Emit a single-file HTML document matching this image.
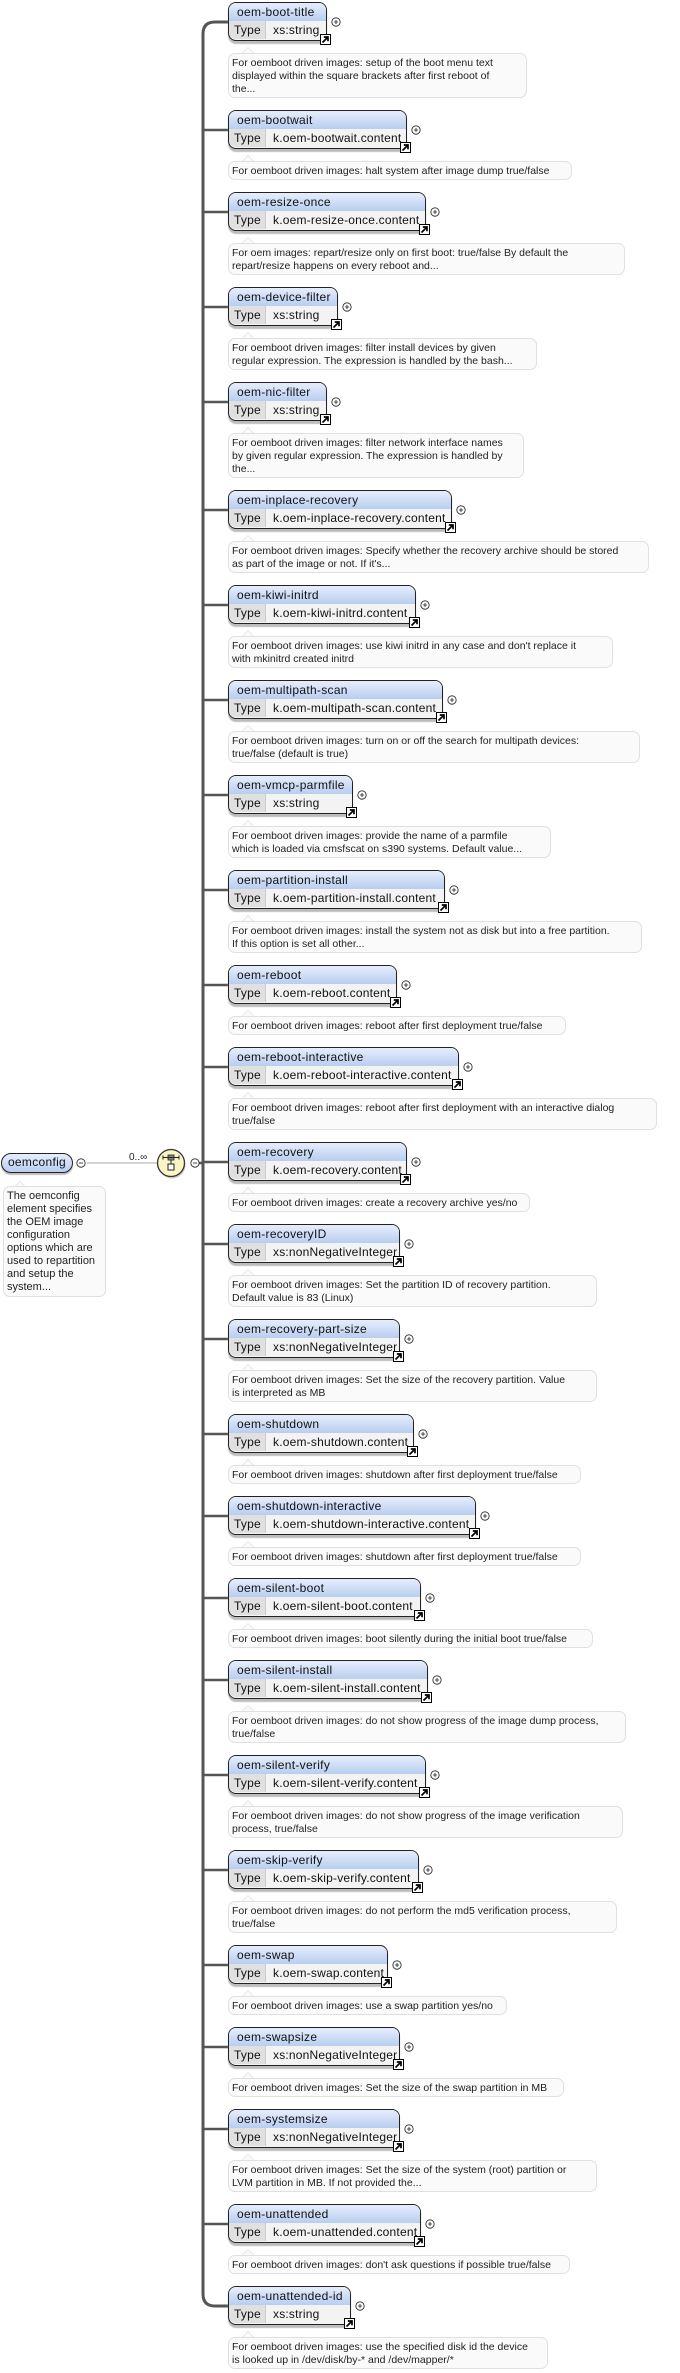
<!DOCTYPE html>
<html><head><meta charset="utf-8">
<style>
html,body{margin:0;padding:0;background:#fff;}
body{width:680px;height:2373px;position:relative;overflow:hidden;font-family:"Liberation Sans",sans-serif;color:#111;}
svg.ov{position:absolute;left:0;top:0;}
.bx{position:absolute;left:228px;height:39px;box-sizing:border-box;border:1.5px solid #222;border-radius:8px 8px 4px 8px;background:#f3f3f3;box-shadow:0 3px 1px #bdbdbd;}
.h{height:18px;border-radius:7px 7px 0 0;background:linear-gradient(#e6eefc,#b8cdf0);font-size:12px;letter-spacing:.3px;line-height:18px;padding-left:8px;white-space:nowrap;overflow:hidden;}
.t{height:18px;display:flex;font-size:12px;line-height:18px;white-space:nowrap;letter-spacing:.2px;}
.k{width:37px;box-sizing:border-box;background:#e0e0e0;border-right:1px solid #ccc;padding-left:5px;border-radius:0 0 0 7px;}
.v{padding-left:7px;}
.ar{position:absolute;right:-5px;bottom:-5px;width:9px;height:9px;background:#fff;border:1px solid #000;display:block;}
.ar svg{display:block;}
.d{position:absolute;left:228px;box-sizing:border-box;border:1px solid #e0e0e0;border-radius:7px;background:#fafafa;font-size:10.5px;line-height:13px;padding:3px 3px 2px 3px;white-space:nowrap;overflow:hidden;color:#222;}
.tp{position:absolute;width:0;height:0;border-left:6px solid transparent;border-right:6px solid transparent;border-bottom:6px solid #e0e0e0;left:242px;}
.tp i{position:absolute;left:-5px;top:1px;border-left:5px solid transparent;border-right:5px solid transparent;border-bottom:5px solid #fafafa;}
</style></head><body>

<svg class="ov" width="680" height="2373" xmlns="http://www.w3.org/2000/svg">
<defs>
<symbol id="p" viewBox="-6 -6 12 12" overflow="visible"><circle r="5" fill="#fff" stroke="#222" stroke-width="1"/><path d="M-2.5 0H2.5M0 -2.5V2.5" stroke="#222" stroke-width="1"/></symbol>
<symbol id="m" viewBox="-6 -6 12 12" overflow="visible"><circle r="5" fill="#fff" stroke="#222" stroke-width="1"/><path d="M-2.5 0H2.5" stroke="#222" stroke-width="1"/></symbol>
</defs>
<path d="M228,22 H215 Q203,22 203,34 V2294 Q203,2306 215,2306 H228" fill="none" stroke="#555" stroke-width="3"/>
<g stroke="#555" stroke-width="2.5">
<path d="M203 130H228M203 212H228M203 307H228M203 402H228M203 510H228M203 605H228M203 700H228M203 795H228M203 890H228M203 985H228M203 1067H228M203 1162H228M203 1244H228M203 1339H228M203 1434H228M203 1516H228M203 1598H228M203 1680H228M203 1775H228M203 1870H228M203 1965H228M203 2047H228M203 2129H228M203 2224H228"/>
</g>
<g>
<use href="#p" x="331" y="17" width="10" height="10"/>
<use href="#p" x="411" y="125" width="10" height="10"/>
<use href="#p" x="430" y="207" width="10" height="10"/>
<use href="#p" x="342" y="302" width="10" height="10"/>
<use href="#p" x="331" y="397" width="10" height="10"/>
<use href="#p" x="456" y="505" width="10" height="10"/>
<use href="#p" x="420" y="600" width="10" height="10"/>
<use href="#p" x="447" y="695" width="10" height="10"/>
<use href="#p" x="357" y="790" width="10" height="10"/>
<use href="#p" x="449" y="885" width="10" height="10"/>
<use href="#p" x="401" y="980" width="10" height="10"/>
<use href="#p" x="463" y="1062" width="10" height="10"/>
<use href="#p" x="411" y="1157" width="10" height="10"/>
<use href="#p" x="404" y="1239" width="10" height="10"/>
<use href="#p" x="404" y="1334" width="10" height="10"/>
<use href="#p" x="418" y="1429" width="10" height="10"/>
<use href="#p" x="480" y="1511" width="10" height="10"/>
<use href="#p" x="425" y="1593" width="10" height="10"/>
<use href="#p" x="432" y="1675" width="10" height="10"/>
<use href="#p" x="430" y="1770" width="10" height="10"/>
<use href="#p" x="423" y="1865" width="10" height="10"/>
<use href="#p" x="392" y="1960" width="10" height="10"/>
<use href="#p" x="404" y="2042" width="10" height="10"/>
<use href="#p" x="404" y="2124" width="10" height="10"/>
<use href="#p" x="425" y="2219" width="10" height="10"/>
<use href="#p" x="355" y="2301" width="10" height="10"/>
</g>
<line x1="87" y1="1163" x2="158" y2="1163" stroke="#aaa" stroke-width="1"/>
<text x="129" y="1160" font-family="Liberation Sans, sans-serif" font-size="10" fill="#222">0..∞</text>
<line x1="199" y1="1163" x2="204" y2="1163" stroke="#555" stroke-width="2.5"/>
<circle cx="172" cy="1165" r="13.5" fill="#c8c8c8"/>
<circle cx="171" cy="1163" r="13.5" fill="#fbf5c4" stroke="#333" stroke-width="1.3"/>
<rect x="168" y="1155" width="6" height="5" fill="#888" stroke="#222" stroke-width=".8"/>
<path d="M163 1157.5H179M163 1155.5V1159.5M179 1155.5V1159.5M171 1160V1164" stroke="#222" stroke-width="1"/>
<rect x="168" y="1164" width="6" height="6" fill="#fff" stroke="#222" stroke-width="1"/>
<use href="#m" x="76" y="1158" width="10" height="10"/>
<use href="#m" x="190" y="1158" width="10" height="10"/>
</svg>

<div style="position:absolute;left:1px;top:1153px;width:72px;height:20px;box-sizing:border-box;border:1.5px solid #222;border-radius:10px;background:linear-gradient(#e6eefc,#b8cdf0);box-shadow:0 2px 1px #bdbdbd;font-size:12px;line-height:17px;text-align:center;letter-spacing:.3px;">oemconfig</div>
<div class="tp" style="left:14px;top:1181px"><i></i></div>
<div class="d" style="left:3px;top:1186px;width:103px;height:111px;font-size:11px;padding:3px 3px;">The oemconfig<br>element specifies<br>the OEM image<br>configuration<br>options which are<br>used to repartition<br>and setup the<br>system...</div>

<div class="bx" style="top:2px;width:99px"><div class="h">oem-boot-title</div><div class="t"><span class="k">Type</span><span class="v">xs:string</span></div><i class="ar"><svg width="9" height="9"><path d="M1.5 7.5L6.5 2.5M2.8 2H7V6.2" stroke="#000" stroke-width="1.7" fill="none"/></svg></i></div>
<div class="tp" style="top:47px"><i></i></div>
<div class="d" style="top:53px;width:299px;height:45px">For oemboot driven images: setup of the boot menu text<br>displayed within the square brackets after first reboot of<br>the...</div>

<div class="bx" style="top:110px;width:179px"><div class="h">oem-bootwait</div><div class="t"><span class="k">Type</span><span class="v">k.oem-bootwait.content</span></div><i class="ar"><svg width="9" height="9"><path d="M1.5 7.5L6.5 2.5M2.8 2H7V6.2" stroke="#000" stroke-width="1.7" fill="none"/></svg></i></div>
<div class="tp" style="top:155px"><i></i></div>
<div class="d" style="top:161px;width:344px;height:19px">For oemboot driven images: halt system after image dump true/false</div>

<div class="bx" style="top:192px;width:198px"><div class="h">oem-resize-once</div><div class="t"><span class="k">Type</span><span class="v">k.oem-resize-once.content</span></div><i class="ar"><svg width="9" height="9"><path d="M1.5 7.5L6.5 2.5M2.8 2H7V6.2" stroke="#000" stroke-width="1.7" fill="none"/></svg></i></div>
<div class="tp" style="top:237px"><i></i></div>
<div class="d" style="top:243px;width:397px;height:32px">For oem images: repart/resize only on first boot: true/false By default the<br>repart/resize happens on every reboot and...</div>

<div class="bx" style="top:287px;width:110px"><div class="h">oem-device-filter</div><div class="t"><span class="k">Type</span><span class="v">xs:string</span></div><i class="ar"><svg width="9" height="9"><path d="M1.5 7.5L6.5 2.5M2.8 2H7V6.2" stroke="#000" stroke-width="1.7" fill="none"/></svg></i></div>
<div class="tp" style="top:332px"><i></i></div>
<div class="d" style="top:338px;width:309px;height:32px">For oemboot driven images: filter install devices by given<br>regular expression. The expression is handled by the bash...</div>

<div class="bx" style="top:382px;width:99px"><div class="h">oem-nic-filter</div><div class="t"><span class="k">Type</span><span class="v">xs:string</span></div><i class="ar"><svg width="9" height="9"><path d="M1.5 7.5L6.5 2.5M2.8 2H7V6.2" stroke="#000" stroke-width="1.7" fill="none"/></svg></i></div>
<div class="tp" style="top:427px"><i></i></div>
<div class="d" style="top:433px;width:296px;height:45px">For oemboot driven images: filter network interface names<br>by given regular expression. The expression is handled by<br>the...</div>

<div class="bx" style="top:490px;width:224px"><div class="h">oem-inplace-recovery</div><div class="t"><span class="k">Type</span><span class="v">k.oem-inplace-recovery.content</span></div><i class="ar"><svg width="9" height="9"><path d="M1.5 7.5L6.5 2.5M2.8 2H7V6.2" stroke="#000" stroke-width="1.7" fill="none"/></svg></i></div>
<div class="tp" style="top:535px"><i></i></div>
<div class="d" style="top:541px;width:421px;height:32px">For oemboot driven images: Specify whether the recovery archive should be stored<br>as part of the image or not. If it's...</div>

<div class="bx" style="top:585px;width:188px"><div class="h">oem-kiwi-initrd</div><div class="t"><span class="k">Type</span><span class="v">k.oem-kiwi-initrd.content</span></div><i class="ar"><svg width="9" height="9"><path d="M1.5 7.5L6.5 2.5M2.8 2H7V6.2" stroke="#000" stroke-width="1.7" fill="none"/></svg></i></div>
<div class="tp" style="top:630px"><i></i></div>
<div class="d" style="top:636px;width:385px;height:32px">For oemboot driven images: use kiwi initrd in any case and don't replace it<br>with mkinitrd created initrd</div>

<div class="bx" style="top:680px;width:215px"><div class="h">oem-multipath-scan</div><div class="t"><span class="k">Type</span><span class="v">k.oem-multipath-scan.content</span></div><i class="ar"><svg width="9" height="9"><path d="M1.5 7.5L6.5 2.5M2.8 2H7V6.2" stroke="#000" stroke-width="1.7" fill="none"/></svg></i></div>
<div class="tp" style="top:725px"><i></i></div>
<div class="d" style="top:731px;width:412px;height:32px">For oemboot driven images: turn on or off the search for multipath devices:<br>true/false (default is true)</div>

<div class="bx" style="top:775px;width:125px"><div class="h">oem-vmcp-parmfile</div><div class="t"><span class="k">Type</span><span class="v">xs:string</span></div><i class="ar"><svg width="9" height="9"><path d="M1.5 7.5L6.5 2.5M2.8 2H7V6.2" stroke="#000" stroke-width="1.7" fill="none"/></svg></i></div>
<div class="tp" style="top:820px"><i></i></div>
<div class="d" style="top:826px;width:323px;height:32px">For oemboot driven images: provide the name of a parmfile<br>which is loaded via cmsfscat on s390 systems. Default value...</div>

<div class="bx" style="top:870px;width:217px"><div class="h">oem-partition-install</div><div class="t"><span class="k">Type</span><span class="v">k.oem-partition-install.content</span></div><i class="ar"><svg width="9" height="9"><path d="M1.5 7.5L6.5 2.5M2.8 2H7V6.2" stroke="#000" stroke-width="1.7" fill="none"/></svg></i></div>
<div class="tp" style="top:915px"><i></i></div>
<div class="d" style="top:921px;width:414px;height:32px">For oemboot driven images: install the system not as disk but into a free partition.<br>If this option is set all other...</div>

<div class="bx" style="top:965px;width:169px"><div class="h">oem-reboot</div><div class="t"><span class="k">Type</span><span class="v">k.oem-reboot.content</span></div><i class="ar"><svg width="9" height="9"><path d="M1.5 7.5L6.5 2.5M2.8 2H7V6.2" stroke="#000" stroke-width="1.7" fill="none"/></svg></i></div>
<div class="tp" style="top:1010px"><i></i></div>
<div class="d" style="top:1016px;width:338px;height:19px">For oemboot driven images: reboot after first deployment true/false</div>

<div class="bx" style="top:1047px;width:231px"><div class="h">oem-reboot-interactive</div><div class="t"><span class="k">Type</span><span class="v">k.oem-reboot-interactive.content</span></div><i class="ar"><svg width="9" height="9"><path d="M1.5 7.5L6.5 2.5M2.8 2H7V6.2" stroke="#000" stroke-width="1.7" fill="none"/></svg></i></div>
<div class="tp" style="top:1092px"><i></i></div>
<div class="d" style="top:1098px;width:429px;height:32px">For oemboot driven images: reboot after first deployment with an interactive dialog<br>true/false</div>

<div class="bx" style="top:1142px;width:179px"><div class="h">oem-recovery</div><div class="t"><span class="k">Type</span><span class="v">k.oem-recovery.content</span></div><i class="ar"><svg width="9" height="9"><path d="M1.5 7.5L6.5 2.5M2.8 2H7V6.2" stroke="#000" stroke-width="1.7" fill="none"/></svg></i></div>
<div class="tp" style="top:1187px"><i></i></div>
<div class="d" style="top:1193px;width:302px;height:19px">For oemboot driven images: create a recovery archive yes/no</div>

<div class="bx" style="top:1224px;width:172px"><div class="h">oem-recoveryID</div><div class="t"><span class="k">Type</span><span class="v">xs:nonNegativeInteger</span></div><i class="ar"><svg width="9" height="9"><path d="M1.5 7.5L6.5 2.5M2.8 2H7V6.2" stroke="#000" stroke-width="1.7" fill="none"/></svg></i></div>
<div class="tp" style="top:1269px"><i></i></div>
<div class="d" style="top:1275px;width:369px;height:32px">For oemboot driven images: Set the partition ID of recovery partition.<br>Default value is 83 (Linux)</div>

<div class="bx" style="top:1319px;width:172px"><div class="h">oem-recovery-part-size</div><div class="t"><span class="k">Type</span><span class="v">xs:nonNegativeInteger</span></div><i class="ar"><svg width="9" height="9"><path d="M1.5 7.5L6.5 2.5M2.8 2H7V6.2" stroke="#000" stroke-width="1.7" fill="none"/></svg></i></div>
<div class="tp" style="top:1364px"><i></i></div>
<div class="d" style="top:1370px;width:369px;height:32px">For oemboot driven images: Set the size of the recovery partition. Value<br>is interpreted as MB</div>

<div class="bx" style="top:1414px;width:186px"><div class="h">oem-shutdown</div><div class="t"><span class="k">Type</span><span class="v">k.oem-shutdown.content</span></div><i class="ar"><svg width="9" height="9"><path d="M1.5 7.5L6.5 2.5M2.8 2H7V6.2" stroke="#000" stroke-width="1.7" fill="none"/></svg></i></div>
<div class="tp" style="top:1459px"><i></i></div>
<div class="d" style="top:1465px;width:353px;height:19px">For oemboot driven images: shutdown after first deployment true/false</div>

<div class="bx" style="top:1496px;width:248px"><div class="h">oem-shutdown-interactive</div><div class="t"><span class="k">Type</span><span class="v">k.oem-shutdown-interactive.content</span></div><i class="ar"><svg width="9" height="9"><path d="M1.5 7.5L6.5 2.5M2.8 2H7V6.2" stroke="#000" stroke-width="1.7" fill="none"/></svg></i></div>
<div class="tp" style="top:1541px"><i></i></div>
<div class="d" style="top:1547px;width:353px;height:19px">For oemboot driven images: shutdown after first deployment true/false</div>

<div class="bx" style="top:1578px;width:193px"><div class="h">oem-silent-boot</div><div class="t"><span class="k">Type</span><span class="v">k.oem-silent-boot.content</span></div><i class="ar"><svg width="9" height="9"><path d="M1.5 7.5L6.5 2.5M2.8 2H7V6.2" stroke="#000" stroke-width="1.7" fill="none"/></svg></i></div>
<div class="tp" style="top:1623px"><i></i></div>
<div class="d" style="top:1629px;width:365px;height:19px">For oemboot driven images: boot silently during the initial boot true/false</div>

<div class="bx" style="top:1660px;width:200px"><div class="h">oem-silent-install</div><div class="t"><span class="k">Type</span><span class="v">k.oem-silent-install.content</span></div><i class="ar"><svg width="9" height="9"><path d="M1.5 7.5L6.5 2.5M2.8 2H7V6.2" stroke="#000" stroke-width="1.7" fill="none"/></svg></i></div>
<div class="tp" style="top:1705px"><i></i></div>
<div class="d" style="top:1711px;width:398px;height:32px">For oemboot driven images: do not show progress of the image dump process,<br>true/false</div>

<div class="bx" style="top:1755px;width:198px"><div class="h">oem-silent-verify</div><div class="t"><span class="k">Type</span><span class="v">k.oem-silent-verify.content</span></div><i class="ar"><svg width="9" height="9"><path d="M1.5 7.5L6.5 2.5M2.8 2H7V6.2" stroke="#000" stroke-width="1.7" fill="none"/></svg></i></div>
<div class="tp" style="top:1800px"><i></i></div>
<div class="d" style="top:1806px;width:395px;height:32px">For oemboot driven images: do not show progress of the image verification<br>process, true/false</div>

<div class="bx" style="top:1850px;width:191px"><div class="h">oem-skip-verify</div><div class="t"><span class="k">Type</span><span class="v">k.oem-skip-verify.content</span></div><i class="ar"><svg width="9" height="9"><path d="M1.5 7.5L6.5 2.5M2.8 2H7V6.2" stroke="#000" stroke-width="1.7" fill="none"/></svg></i></div>
<div class="tp" style="top:1895px"><i></i></div>
<div class="d" style="top:1901px;width:389px;height:32px">For oemboot driven images: do not perform the md5 verification process,<br>true/false</div>

<div class="bx" style="top:1945px;width:160px"><div class="h">oem-swap</div><div class="t"><span class="k">Type</span><span class="v">k.oem-swap.content</span></div><i class="ar"><svg width="9" height="9"><path d="M1.5 7.5L6.5 2.5M2.8 2H7V6.2" stroke="#000" stroke-width="1.7" fill="none"/></svg></i></div>
<div class="tp" style="top:1990px"><i></i></div>
<div class="d" style="top:1996px;width:279px;height:19px">For oemboot driven images: use a swap partition yes/no</div>

<div class="bx" style="top:2027px;width:172px"><div class="h">oem-swapsize</div><div class="t"><span class="k">Type</span><span class="v">xs:nonNegativeInteger</span></div><i class="ar"><svg width="9" height="9"><path d="M1.5 7.5L6.5 2.5M2.8 2H7V6.2" stroke="#000" stroke-width="1.7" fill="none"/></svg></i></div>
<div class="tp" style="top:2072px"><i></i></div>
<div class="d" style="top:2078px;width:336px;height:19px">For oemboot driven images: Set the size of the swap partition in MB</div>

<div class="bx" style="top:2109px;width:172px"><div class="h">oem-systemsize</div><div class="t"><span class="k">Type</span><span class="v">xs:nonNegativeInteger</span></div><i class="ar"><svg width="9" height="9"><path d="M1.5 7.5L6.5 2.5M2.8 2H7V6.2" stroke="#000" stroke-width="1.7" fill="none"/></svg></i></div>
<div class="tp" style="top:2154px"><i></i></div>
<div class="d" style="top:2160px;width:369px;height:32px">For oemboot driven images: Set the size of the system (root) partition or<br>LVM partition in MB. If not provided the...</div>

<div class="bx" style="top:2204px;width:193px"><div class="h">oem-unattended</div><div class="t"><span class="k">Type</span><span class="v">k.oem-unattended.content</span></div><i class="ar"><svg width="9" height="9"><path d="M1.5 7.5L6.5 2.5M2.8 2H7V6.2" stroke="#000" stroke-width="1.7" fill="none"/></svg></i></div>
<div class="tp" style="top:2249px"><i></i></div>
<div class="d" style="top:2255px;width:342px;height:19px">For oemboot driven images: don't ask questions if possible true/false</div>

<div class="bx" style="top:2286px;width:123px"><div class="h">oem-unattended-id</div><div class="t"><span class="k">Type</span><span class="v">xs:string</span></div><i class="ar"><svg width="9" height="9"><path d="M1.5 7.5L6.5 2.5M2.8 2H7V6.2" stroke="#000" stroke-width="1.7" fill="none"/></svg></i></div>
<div class="tp" style="top:2331px"><i></i></div>
<div class="d" style="top:2337px;width:320px;height:32px">For oemboot driven images: use the specified disk id the device<br>is looked up in /dev/disk/by-* and /dev/mapper/*</div>

</body></html>
